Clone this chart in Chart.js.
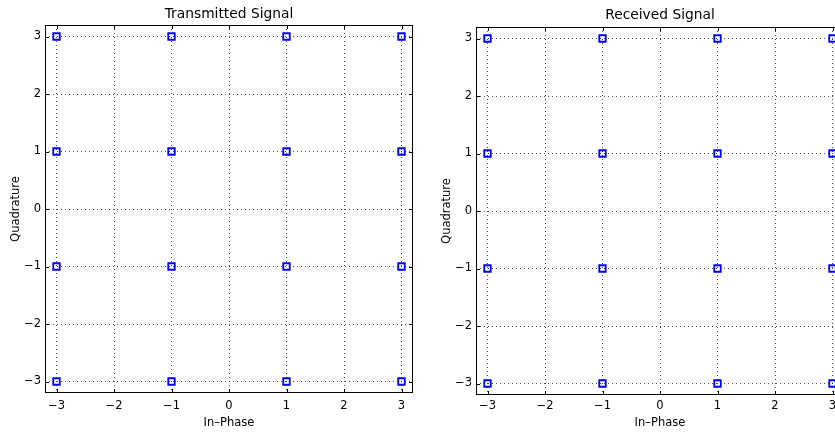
<!DOCTYPE html>
<html>
<head>
<meta charset="utf-8">
<script src="https://cdn.jsdelivr.net/npm/chart.js@4/dist/chart.umd.min.js"></script>
<style>
  html, body { margin: 0; padding: 0; background: #fff; width: 835px; height: 433px; overflow: hidden; position: relative; }
  canvas { position: absolute; top: 0; }
  #tx { left: 0; }
  #rx { left: 431px; }
</style>
</head>
<body>
<canvas id="tx" width="420" height="433"></canvas>
<canvas id="rx" width="420" height="433"></canvas>
<script>
// ---- data ----
const TX_I = [-3, -3, -3, -3, -1, -1, -1, -1, 1, 1, 1, 1, 3, 3, 3, 3];
const TX_Q = [-3, -1, 1, 3, -3, -1, 1, 3, -3, -1, 1, 3, -3, -1, 1, 3];
const RX_I = [-3, -3, -3, -3, -1, -1, -1, -1, 1, 1, 1, 1, 3, 3, 3, 3];
const RX_Q = [-3, -1, 1, 3, -3, -1, 1, 3, -3, -1, 1, 3, -3, -1, 1, 3];
const TICK_VALUES = [-3, -2, -1, 0, 1, 2, 3];
const TICK_LABELS = ['\u22123', '\u22122', '\u22121', '0', '1', '2', '3'];
const TITLES = ['Transmitted Signal', 'Received Signal'];
const X_TITLE = 'In\u2013Phase';
const Y_TITLE = 'Quadrature';

Chart.defaults.font.family = "'DejaVu Sans', sans-serif";
Chart.defaults.font.size = 11.5;
Chart.defaults.color = '#000';

const framePlugin = {
  id: 'frame',
  afterDraw(chart) {
    const { ctx, chartArea: { left, right, top, bottom }, scales: { x, y } } = chart;
    ctx.save();
    ctx.strokeStyle = '#000';
    ctx.lineWidth = 1;
    ctx.beginPath();
    TICK_VALUES.forEach(v => {
      const px = Math.round(x.getPixelForValue(v)) + 0.5;
      ctx.moveTo(px, top); ctx.lineTo(px, top + 4);
      ctx.moveTo(px, bottom); ctx.lineTo(px, bottom - 4);
      const py = Math.round(y.getPixelForValue(v)) + 0.5;
      ctx.moveTo(left, py); ctx.lineTo(left + 4, py);
      ctx.moveTo(right, py); ctx.lineTo(right - 4, py);
    });
    ctx.stroke();
    const l = Math.round(left) + 0.5, t = Math.round(top) + 0.5;
    const r = Math.round(right) - 0.5, b = Math.round(bottom) - 0.5;
    ctx.strokeRect(l, t, r - l, b - t);
    ctx.restore();
  }
};

function makeChart(id, title, xs, ys, titlePad, xHeight, xTickPad) {
  const pts = xs.map((v, i) => ({ x: v, y: ys[i] }));
  const tickCb = (v) => {
    const i = TICK_VALUES.indexOf(v);
    return i >= 0 ? TICK_LABELS[i] : '';
  };
  const setTicks = (s) => { s.ticks = TICK_VALUES.map(v => ({ value: v })); };
  return new Chart(document.getElementById(id), {
    type: 'scatter',
    data: {
      datasets: [{
        data: pts,
        pointStyle: 'rect',
        pointRadius: 4.6,
        pointHoverRadius: 4.6,
        pointBorderWidth: 1.8,
        pointBorderColor: '#0000ff',
        pointBackgroundColor: 'rgba(0,0,0,0)',
        showLine: false,
        clip: false
      }]
    },
    options: {
      responsive: false,
      devicePixelRatio: 1,
      animation: false,
      layout: { padding: { left: 0, right: 7, top: 0, bottom: 0 } },
      plugins: {
        legend: { display: false },
        tooltip: { enabled: false },
        title: {
          display: true,
          text: title,
          fullSize: false,
          color: '#000',
          font: { size: 13.8, weight: 'normal' },
          padding: titlePad
        }
      },
      scales: {
        x: {
          type: 'linear',
          min: -3.2, max: 3.2,
          afterBuildTicks: setTicks,
          afterFit: s => { s.height = xHeight; },
          grid: { color: 'rgba(0,0,0,0.7)', lineWidth: 1, drawTicks: false },
          border: { display: false, dash: [1, 3] },
          ticks: { callback: tickCb, padding: xTickPad, maxRotation: 0, autoSkip: false, color: '#000' },
          title: { display: true, text: X_TITLE, color: '#000', padding: { top: 0, bottom: 3 } }
        },
        y: {
          type: 'linear',
          min: -3.2, max: 3.2,
          afterBuildTicks: setTicks,
          afterFit: s => { s.width = 45; },
          grid: { color: 'rgba(0,0,0,0.7)', lineWidth: 1, drawTicks: false },
          border: { display: false, dash: [1, 3] },
          ticks: { callback: tickCb, padding: 4, autoSkip: false, color: '#000' },
          title: { display: true, text: Y_TITLE, color: '#000', padding: { top: 9.1, bottom: 0 } }
        }
      }
    },
    plugins: [framePlugin]
  });
}

makeChart('tx', TITLES[0], TX_I, TX_Q, { top: 6.5, bottom: 1.94 }, 40, 6);
makeChart('rx', TITLES[1], RX_I, RX_Q, { top: 7.5, bottom: 2.94 }, 38, 4);
</script>
</body>
</html>
